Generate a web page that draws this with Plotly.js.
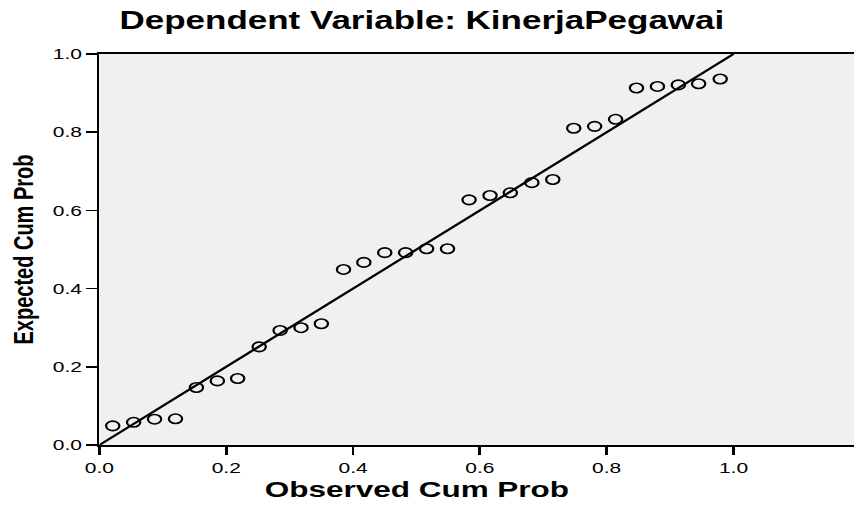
<!DOCTYPE html>
<html>
<head>
<meta charset="utf-8">
<script src="https://cdn.plot.ly/plotly-3.0.1.min.js"></script>
<style>
  html, body { margin: 0; padding: 0; background: #ffffff; overflow: hidden; }
  #chart { width: 610px; height: 506px; transform: scaleX(1.4); transform-origin: 0 0; }
</style>
</head>
<body>
<div id="chart"></div>
<script>
// Observed cumulative probability (x) and expected cumulative probability (y)
const observedCumProb = [0.021,0.054,0.087,0.120,0.153,0.186,0.218,0.252,0.285,0.318,
                         0.350,0.385,0.417,0.450,0.483,0.516,0.549,0.583,0.616,0.648,
                         0.682,0.715,0.748,0.781,0.814,0.847,0.880,0.913,0.945,0.979];
const expectedCumProb = [0.049,0.058,0.066,0.067,0.147,0.164,0.170,0.251,0.293,0.300,
                         0.310,0.449,0.467,0.492,0.492,0.502,0.502,0.627,0.638,0.645,
                         0.671,0.679,0.810,0.815,0.833,0.913,0.917,0.921,0.924,0.936];
// Reference diagonal
const refLineX = [0, 1];
const refLineY = [0, 1];
const tickVals = [0, 0.2, 0.4, 0.6, 0.8, 1.0];
const tickText = ["0.0", "0.2", "0.4", "0.6", "0.8", "1.0"];

const FONT = '"Liberation Sans", Arial, sans-serif';

const traces = [
  {
    x: refLineX, y: refLineY, type: 'scatter', mode: 'lines',
    line: { color: '#000000', width: 2 }, hoverinfo: 'skip', showlegend: false
  },
  {
    x: observedCumProb, y: expectedCumProb, type: 'scatter', mode: 'markers',
    marker: { symbol: 'circle-open', size: 9.5, color: '#000000', line: { color: '#000000', width: 1.6 } },
    showlegend: false
  }
];

const layout = {
  width: 610, height: 506,
  margin: { l: 71.4, r: 0, t: 54, b: 61 },
  paper_bgcolor: '#ffffff',
  plot_bgcolor: '#f0f0f0',
  font: { family: FONT, color: '#000000' },
  title: {
    text: '<b>Dependent Variable: KinerjaPegawai</b>',
    font: { family: FONT, size: 25, color: '#000000' },
    x: 0.494, xref: 'container', xanchor: 'center',
    y: 0.96, yref: 'container', yanchor: 'middle'
  },
  xaxis: {
    range: [0, 1.19],
    tickvals: tickVals, ticktext: tickText,
    ticks: 'outside', ticklen: 8, tickwidth: 2, tickcolor: '#000000',
    showline: true, linecolor: '#000000', linewidth: 1.6, mirror: true,
    showgrid: false, zeroline: false,
    tickfont: { family: FONT, size: 15, color: '#000000' }
  },
  yaxis: {
    range: [0, 1.0],
    tickvals: tickVals, ticktext: tickText,
    ticks: 'outside', ticklen: 8, tickwidth: 1.6, tickcolor: '#000000',
    showline: true, linecolor: '#000000', linewidth: 1.4, mirror: false,
    showgrid: false, zeroline: false,
    tickfont: { family: FONT, size: 15, color: '#000000' },
    title: { text: '<b>Expected Cum Prob</b>', font: { family: FONT, size: 20, color: '#000000' }, standoff: 8 }
  },
  annotations: [
    {
      text: '<b>Observed Cum Prob</b>',
      xref: 'paper', yref: 'paper', x: 0.422, y: -0.115,
      xanchor: 'center', yanchor: 'middle', showarrow: false,
      font: { family: FONT, size: 22.5, color: '#000000' }
    }
  ]
};

Plotly.newPlot('chart', traces, layout, { displayModeBar: false, staticPlot: true });
</script>
</body>
</html>
